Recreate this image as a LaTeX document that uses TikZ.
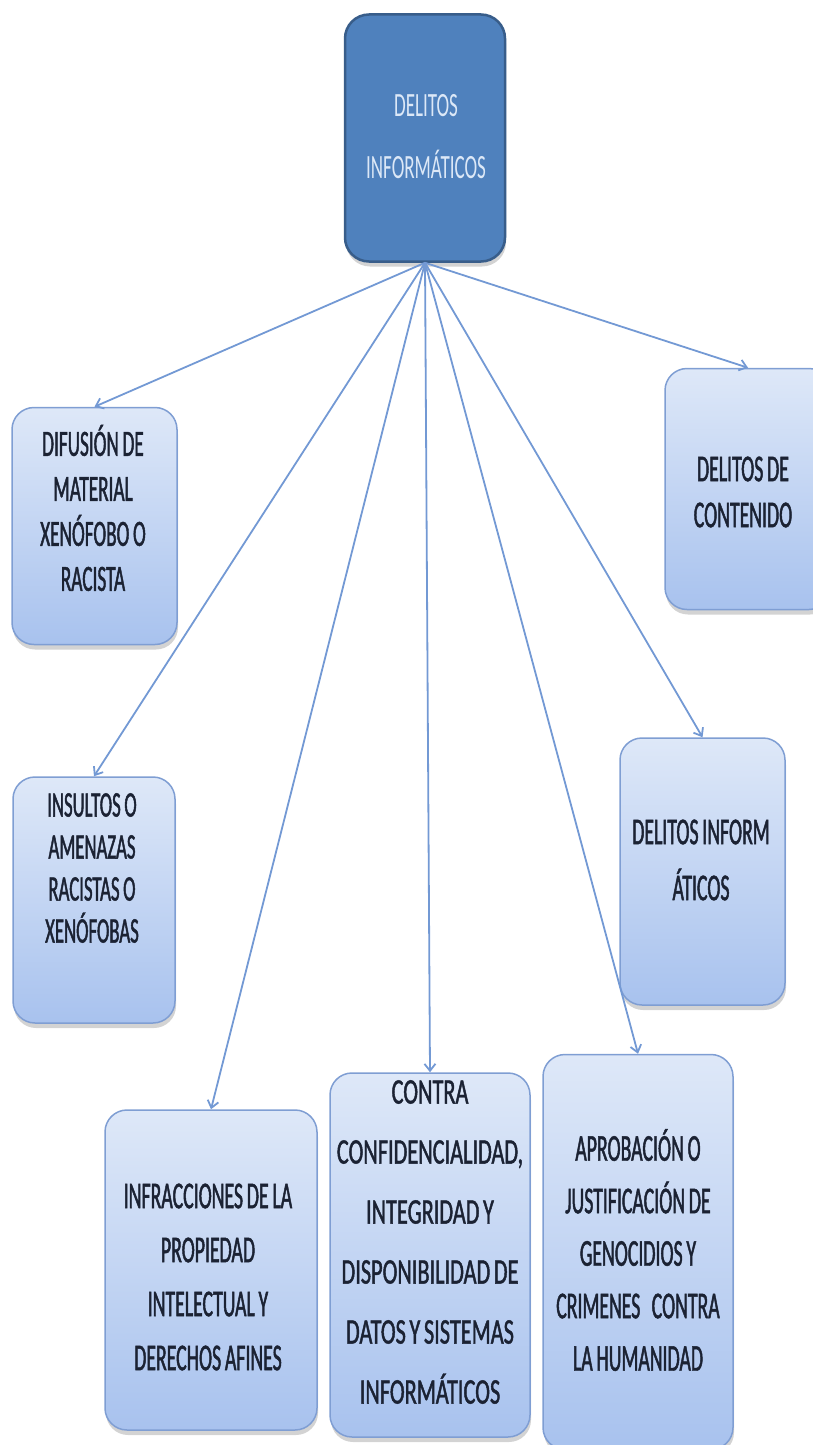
\documentclass[tikz,border=0pt]{standalone}
\usepackage{fontspec}
\setmainfont{Carlito}
\newfontfamily\rootfont{Carlito}[FakeStretch=0.56]
\newfontfamily\narrowfont{Carlito}[FakeStretch=0.52, FakeBold=1.2]
\newfontfamily\widefont{Carlito}[FakeStretch=0.62, FakeBold=1.2]
\usetikzlibrary{arrows.meta,shadows}

\definecolor{rootblue}{HTML}{4F81BD}
\definecolor{rootedge}{HTML}{385D8A}
\definecolor{roottext}{HTML}{DCE8F7}
\definecolor{boxtop}{HTML}{DEE8F8}
\definecolor{boxbottom}{HTML}{A8C2EE}
\definecolor{boxedge}{HTML}{7F9ED3}
\definecolor{boxtext}{HTML}{1B2233}
\definecolor{linkblue}{HTML}{7399D4}

\newcommand{\boxfont}[3]{#1\fontsize{#2}{#3}\selectfont\spaceskip=.1em\relax}

\begin{document}
\begin{tikzpicture}[x=1pt, y=-1pt,
    rootbox/.style={draw=rootedge, line width=2.5pt, fill=rootblue,
        rounded corners=24pt,
        drop shadow={shadow xshift=1pt, shadow yshift=-5pt, opacity=.35}},
    catbox/.style={draw=boxedge, line width=1.5pt,
        top color=boxtop, bottom color=boxbottom, rounded corners=22pt,
        drop shadow={shadow xshift=1pt, shadow yshift=-5pt, opacity=.35}},
    cattext/.style={text=boxtext, align=center, inner sep=0pt},
    link/.style={draw=linkblue, line width=1.8pt,
        -{Straight Barb[length=7pt, width=11pt]}}]

    \useasboundingbox (0,0) rectangle (812,1445);

    % -------------------------------------------------------
    % 1. Root box
    % -------------------------------------------------------
    \node[rootbox, minimum width=160pt, minimum height=247pt] (root) at (425,138) {};
    \node[cattext, text=roottext, font=\boxfont{\rootfont}{34}{62}]
        (root-txt) at (426,137) {DELITOS\\INFORMÁTICOS};

    % -------------------------------------------------------
    % 2. Category boxes
    % -------------------------------------------------------
    \node[catbox, minimum width=165pt, minimum height=237pt] (difusion) at (94.5,526) {};
    \node[cattext, font=\boxfont{\narrowfont}{37}{45}] (difusion-txt) at (93,508)
        {DIFUSIÓN DE\\MATERIAL\\XENÓFOBO O\\RACISTA};

    \node[catbox, minimum width=162pt, minimum height=246pt] (insultos) at (94,900) {};
    \node[cattext, font=\boxfont{\narrowfont}{36}{42}] (insultos-txt) at (92,868)
        {INSULTOS O\\AMENAZAS\\RACISTAS O\\XENÓFOBAS};

    \node[catbox, minimum width=166pt, minimum height=241pt] (contenido) at (748,489) {};
    \node[cattext, font=\boxfont{\narrowfont}{38}{46}] (contenido-txt) at (743,492)
        {DELITOS DE\\CONTENIDO};

    \node[catbox, minimum width=165pt, minimum height=267pt] (delinf) at (702.5,871.5) {};
    \node[cattext, font=\boxfont{\narrowfont}{38}{56}] (delinf-txt) at (701,860)
        {DELITOS INFORM\\ÁTICOS};

    \node[catbox, minimum width=212pt, minimum height=320pt] (infracciones) at (211,1270) {};
    \node[cattext, font=\boxfont{\narrowfont}{38}{54}] (infracciones-txt) at (208,1277)
        {INFRACCIONES DE LA\\PROPIEDAD\\INTELECTUAL Y\\DERECHOS AFINES};

    \node[catbox, minimum width=200pt, minimum height=364pt] (contra) at (430,1255) {};
    \node[cattext, font=\boxfont{\widefont}{36}{60}] (contra-txt) at (430,1242)
        {CONTRA\\CONFIDENCIALIDAD,\\INTEGRIDAD Y\\DISPONIBILIDAD DE\\DATOS Y SISTEMAS\\INFORMÁTICOS};

    \node[catbox, minimum width=190pt, minimum height=395pt] (aprobacion) at (638,1252) {};
    \node[cattext, font=\boxfont{\narrowfont}{38}{52.5}] (aprobacion-txt) at (638,1250)
        {APROBACIÓN O\\JUSTIFICACIÓN DE\\GENOCIDIOS Y\\CRIMENES\hspace{.3em}CONTRA\\LA HUMANIDAD};

    % -------------------------------------------------------
    % 3. Links from the root
    % -------------------------------------------------------
    \foreach \target in {difusion, insultos, infracciones, contra, aprobacion, delinf, contenido} {
        \draw[link] (root.south) -- (\target.north);
    }
\end{tikzpicture}
\end{document}
